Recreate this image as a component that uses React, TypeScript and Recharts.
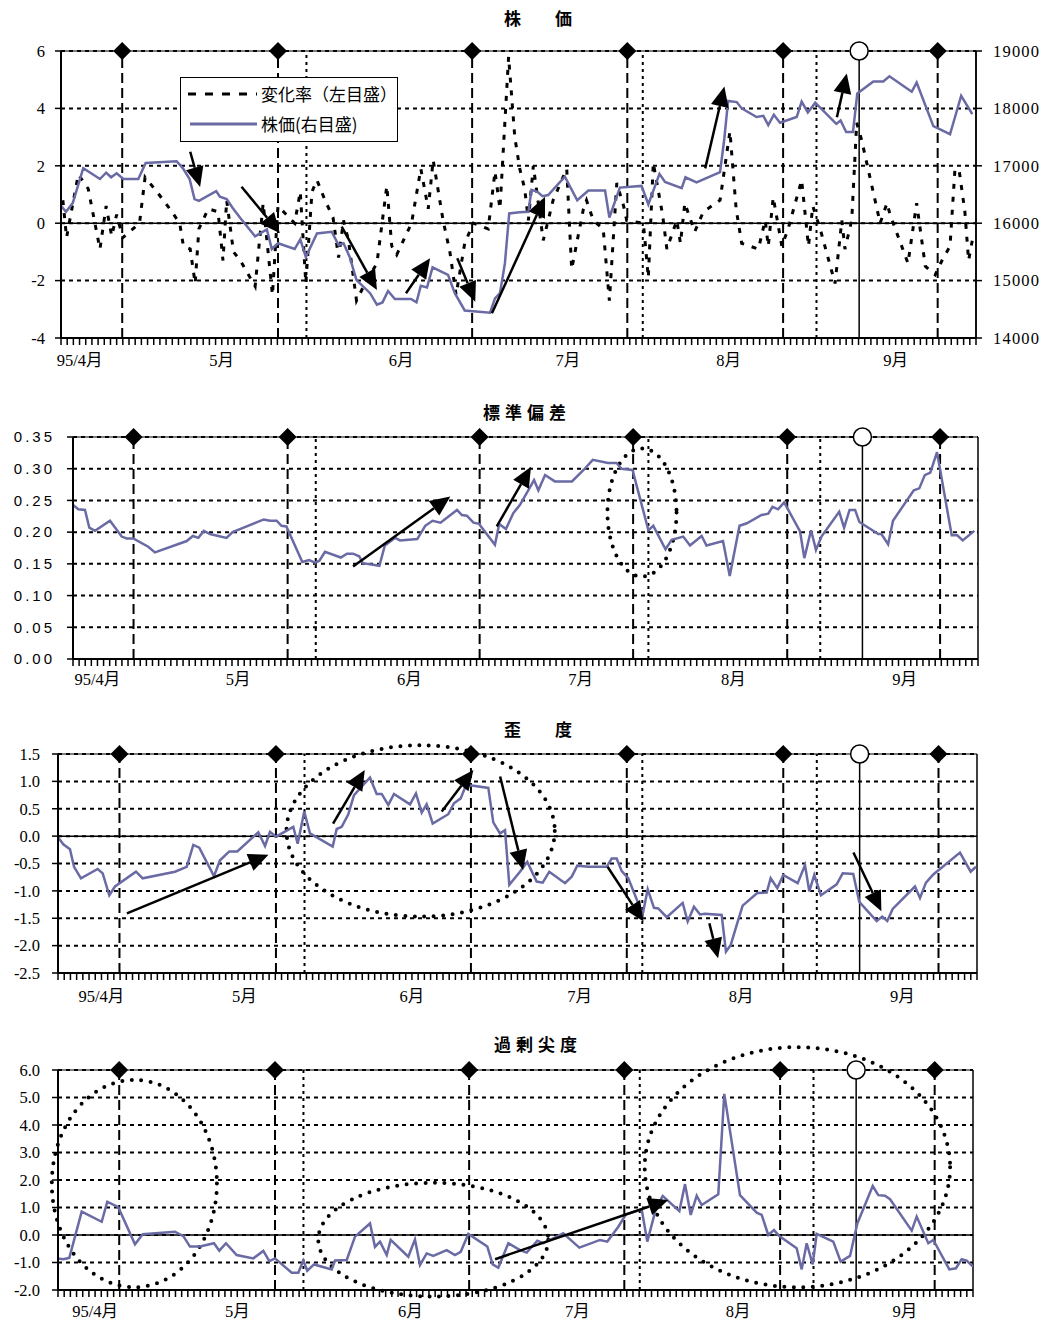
import React from 'react';
import {
  LineChart, Line, XAxis, YAxis, CartesianGrid,
  ReferenceLine, ReferenceDot, ReferenceArea, Legend,
} from 'recharts';

// x = day position on the axis: 0 at the left edge, 148 at the right edge
const monthLabels = ['95/4月', '5月', '6月', '7月', '8月', '9月'];

// event markers drawn along the top border
const diamondDays = [9.9, 35.1, 66.5, 91.6, 116.8, 141.8];
const dottedDays = [39.7, 94.1, 122.2];
const circleDays = [129.1];

// 株価 (right scale)
const priceDays = [0.1, 0.8, 1.9, 3.6, 6.3, 7.3, 8.1, 9.0, 10.1, 12.5, 13.7, 18.7, 19.7, 20.8, 21.6, 22.3, 25.1, 25.7, 26.8, 27.8,
  29.0, 31.4, 33.3, 34.1, 35.1, 37.8, 38.7, 39.6, 41.4, 43.8, 44.9, 45.7, 46.7, 47.8, 50.0, 51.1, 52.0, 52.9, 54.0, 56.6,
  57.5, 58.2, 59.2, 60.1, 62.6, 63.7, 65.3, 69.4, 70.2, 71.0, 71.8, 72.5, 74.2, 75.6, 76.1, 77.0, 77.9, 78.8, 81.5, 83.5,
  85.3, 88.0, 88.7, 90.4, 93.9, 95.0, 96.8, 97.7, 100.4, 101.0, 102.8, 106.6, 107.3, 107.9, 109.3, 110.1, 112.5, 113.6, 114.4, 115.3,
  116.3, 119.0, 119.8, 120.8, 122.0, 125.4, 126.1, 127.0, 128.1, 128.8, 131.4, 133.0, 134.0, 137.6, 138.4, 141.1, 143.8, 145.6, 147.4];
const priceValues = [16290, 16200, 16350, 16960, 16770, 16880, 16800, 16870, 16770, 16770, 17050, 17080, 16960, 16770, 16420, 16390, 16560, 16460, 16420, 16260,
  16090, 15770, 15890, 15550, 15650, 15550, 15720, 15410, 15820, 15850, 15620, 15650, 15410, 15010, 14780, 14580, 14620, 14820, 14680, 14680,
  14620, 14910, 14880, 15230, 15100, 14780, 14480, 14440, 14690, 14780, 15300, 16170, 16190, 16200, 16580, 16550, 16470, 16490, 16810, 16400,
  16570, 16570, 16100, 16620, 16650, 16330, 16860, 16720, 16610, 16800, 16710, 16890, 17480, 18130, 18110, 18000, 17850, 17870, 17710, 17890,
  17750, 17850, 18120, 17930, 18100, 17730, 17790, 17590, 17590, 18260, 18470, 18470, 18560, 18290, 18450, 17690, 17550, 18220, 17900];

// 変化率 (left scale, %)
const changeDays = [0.3, 0.9, 1.5, 2.8, 4.4, 6.3, 7.3, 8.2, 9.0, 10.0, 12.7, 13.6, 15.5, 17.6, 19.2, 19.8, 20.9, 21.7, 22.3, 23.8,
  25.4, 26.2, 26.8, 27.9, 29.0, 31.4, 32.7, 34.2, 35.1, 37.8, 38.7, 39.6, 40.6, 41.4, 42.7, 44.0, 44.9, 45.7, 46.5, 47.8,
  49.4, 51.1, 52.7, 53.5, 54.3, 56.7, 58.2, 59.4, 60.2, 61.8, 62.9, 63.9, 65.3, 66.7, 69.1, 70.2, 71.0, 72.4, 73.4, 74.2,
  75.0, 75.6, 76.4, 78.0, 79.6, 81.8, 82.6, 84.5, 85.0, 86.1, 87.7, 88.7, 89.9, 91.0, 91.5, 94.2, 95.0, 95.8, 97.3, 98.0,
  99.6, 100.2, 100.9, 102.5, 103.9, 106.6, 108.2, 109.2, 110.1, 112.8, 113.9, 114.4, 115.2, 116.6, 117.6, 119.8, 120.9, 121.6, 122.8, 125.2,
  126.3, 126.8, 127.9, 128.7, 129.5, 132.5, 133.6, 134.1, 137.0, 138.4, 139.8, 141.4, 142.5, 143.8, 144.6, 145.3, 146.2, 146.8, 147.4];
const changeValues = [0.8, -0.5, 0.2, 1.7, 1.2, -0.9, 0.6, -0.45, 0.3, -0.5, 0.0, 1.6, 1.1, 0.5, 0.0, -0.8, -0.9, -2.1, -0.2, 0.5,
  0.4, -1.3, 0.8, -1.0, -1.3, -2.2, 0.7, -2.5, 0.6, 0.0, 1.1, -2.1, 1.1, 1.5, 0.8, 0.2, -1.2, 0.1, -0.6, -2.7,
  -2.0, -1.4, 1.3, -0.8, -1.1, 0.0, 1.9, 0.5, 2.2, 0.1, -1.0, -2.5, -0.7, 0.0, -0.2, 1.8, 0.5, 5.8, 3.0, 1.9,
  1.2, 0.1, 2.0, -0.6, 0.8, 1.9, -1.6, 0.5, 0.8, 0.1, -0.2, -2.7, 1.4, 0.6, 0.1, 0.0, -1.9, 2.1, 0.3, -0.9,
  0.1, -0.7, 0.7, -0.3, 0.4, 0.8, 3.2, 0.5, -0.7, -0.9, 0.1, -0.8, 0.9, -0.8, -0.2, 1.5, -0.8, 0.6, -0.2, -2.1,
  0.1, -0.9, 0.1, 3.5, 2.9, 0.0, 0.7, 0.3, -1.4, 0.7, -1.5, -1.8, -1.3, -0.8, 1.9, 1.8, 0.4, -1.3, -0.6];

// 標準偏差
const sdDays = [0, 0.87, 1.96, 2.67, 3.6, 6.05, 7.96, 8.78, 9.86, 12.3, 13.4, 18.6, 19.6, 20.5, 21.4, 22.4, 25.1, 26.1, 27.9, 31.2,
  32.2, 33.3, 34.1, 34.9, 37.5, 38.6, 39.6, 40.3, 41.2, 43.8, 44.8, 45.8, 46.8, 47.4, 50.1, 51.0, 52.7, 53.5, 56.3, 57.6,
  58.8, 60.1, 62.8, 63.6, 64.4, 65.5, 66.4, 69.0, 69.7, 70.8, 72.0, 73.1, 75.4, 76.1, 77.2, 78.8, 81.6, 83.5, 85.0, 87.5,
  88.9, 89.7, 91.5, 94.1, 94.9, 96.9, 97.9, 99.8, 100.9, 102.8, 103.6, 106.3, 107.4, 109.0, 110.2, 112.6, 113.7, 114.4, 115.3, 116.3,
  118.9, 119.6, 120.7, 121.5, 122.4, 125.3, 126.1, 127.0, 127.9, 128.6, 131.7, 132.2, 133.3, 134.1, 137.5, 138.4, 139.3, 140.2, 141.3, 143.7,
  144.6, 145.5, 147.4];
const sdValues = [0.243, 0.236, 0.235, 0.207, 0.202, 0.218, 0.193, 0.190, 0.190, 0.177, 0.168, 0.186, 0.194, 0.191, 0.202, 0.197, 0.191, 0.200, 0.207, 0.220,
  0.218, 0.218, 0.210, 0.209, 0.153, 0.156, 0.152, 0.155, 0.169, 0.160, 0.166, 0.166, 0.162, 0.151, 0.147, 0.179, 0.191, 0.187, 0.189, 0.210,
  0.218, 0.215, 0.235, 0.227, 0.226, 0.215, 0.213, 0.180, 0.213, 0.205, 0.230, 0.243, 0.282, 0.266, 0.290, 0.280, 0.280, 0.298, 0.314, 0.309,
  0.309, 0.300, 0.298, 0.203, 0.210, 0.173, 0.188, 0.193, 0.179, 0.194, 0.179, 0.186, 0.131, 0.210, 0.214, 0.227, 0.229, 0.240, 0.236, 0.247,
  0.201, 0.159, 0.203, 0.172, 0.193, 0.232, 0.207, 0.235, 0.235, 0.216, 0.197, 0.197, 0.181, 0.218, 0.266, 0.269, 0.290, 0.294, 0.326, 0.195,
  0.195, 0.187, 0.202];

// 歪度
const skewDays = [0, 0.85, 1.93, 2.58, 3.70, 6.39, 7.20, 8.26, 9.18, 12.56, 13.64, 18.84, 20.73, 21.79, 22.75, 25.12, 26.09, 27.59, 28.87, 32.26,
  33.34, 34.14, 35.11, 37.89, 38.60, 39.66, 40.58, 44.24, 44.88, 45.69, 46.75, 47.67, 49.44, 50.24, 51.32, 52.13, 53.19, 54.11, 56.69, 57.65,
  58.57, 59.37, 60.34, 62.85, 63.77, 64.85, 65.70, 66.88, 69.30, 70.10, 71.18, 71.99, 72.68, 74.40, 75.58, 77.09, 78.06, 79.12, 81.65, 82.73,
  83.63, 85.40, 88.36, 89.17, 89.97, 90.78, 91.84, 94.16, 94.97, 95.98, 96.67, 98.03, 100.60, 101.41, 102.42, 103.39, 104.19, 106.88, 107.57, 108.33,
  109.39, 110.26, 112.61, 114.13, 114.77, 115.84, 116.80, 119.12, 120.30, 120.99, 121.79, 122.87, 125.40, 126.37, 128.07, 129.04, 131.84, 132.74, 133.55, 134.42,
  138.01, 138.82, 139.78, 140.96, 145.26, 146.98, 147.83];
const skewValues = [-0.02, -0.15, -0.24, -0.56, -0.77, -0.60, -0.68, -1.08, -0.92, -0.65, -0.77, -0.65, -0.56, -0.16, -0.21, -0.73, -0.44, -0.28, -0.28, 0.07,
  -0.18, 0.08, -0.01, 0.17, -0.14, 0.45, 0.05, -0.19, 0.13, 0.17, 0.40, 0.75, 0.97, 1.07, 0.77, 0.77, 0.57, 0.77, 0.58, 0.78,
  0.43, 0.58, 0.23, 0.40, 0.60, 0.69, 0.93, 0.92, 0.88, 0.25, 0.05, 0.11, -0.89, -0.65, -0.47, -0.83, -0.85, -0.65, -0.86, -0.74,
  -0.54, -0.56, -0.56, -0.41, -0.41, -0.64, -0.77, -1.43, -0.97, -1.31, -1.32, -1.48, -1.22, -1.56, -1.29, -1.43, -1.42, -1.44, -2.11, -1.99,
  -1.59, -1.27, -1.04, -1.03, -0.77, -0.95, -0.71, -0.86, -0.53, -1.01, -0.71, -1.08, -0.88, -0.68, -0.69, -1.20, -1.55, -1.47, -1.55, -1.33,
  -0.92, -1.13, -0.85, -0.70, -0.30, -0.65, -0.56];

// 過剰尖度
const kurtDays = [0, 0.86, 1.83, 3.83, 7.07, 7.97, 9.75, 12.45, 13.70, 18.92, 20.27, 21.35, 22.97, 25.23, 26.09, 27.17, 28.90, 31.59, 33.21, 34.18,
  35.10, 37.80, 38.87, 39.68, 40.32, 41.41, 44.27, 44.81, 46.70, 48.04, 50.47, 51.27, 52.08, 53.17, 53.81, 56.66, 57.74, 58.55, 59.64, 60.70,
  62.87, 64.21, 65.14, 66.37, 69.44, 70.31, 71.22, 72.84, 74.73, 75.81, 77.53, 78.50, 81.73, 82.82, 84.32, 87.67, 88.85, 90.63, 91.87, 94.41,
  95.32, 96.73, 97.81, 100.50, 101.42, 102.34, 103.31, 104.12, 106.80, 107.77, 110.31, 113.01, 113.82, 114.89, 115.81, 116.67, 119.48, 120.29, 121.10, 122.07,
  122.72, 125.40, 126.60, 128.11, 129.29, 131.78, 132.68, 133.77, 134.58, 138.09, 138.89, 140.77, 141.58, 144.17, 145.25, 146.17, 146.98, 148];
const kurtValues = [-0.85, -0.88, -0.83, 0.85, 0.48, 1.21, 1.01, -0.34, 0.03, 0.12, -0.04, -0.42, -0.42, -0.30, -0.57, -0.30, -0.73, -0.85, -0.58, -0.95,
  -0.85, -1.37, -1.37, -0.93, -1.30, -1.07, -1.25, -0.93, -0.91, -0.06, 0.42, -0.43, -0.24, -0.73, -0.18, -0.79, -0.16, -1.09, -0.67, -0.76,
  -0.55, -0.73, -0.61, 0.04, -0.42, -1.07, -1.19, -0.30, -0.55, -0.64, -0.21, -0.30, 0.06, -0.16, -0.46, -0.18, -0.24, 0.30, 0.75, 0.93,
  -0.24, 0.97, 1.42, 0.87, 1.85, 0.73, 1.43, 1.09, 1.48, 5.13, 1.45, 0.81, 0.73, 0.0, 0.18, -0.04, -0.48, -1.25, -0.30, -1.07,
  0.04, -0.24, -0.97, -0.76, 0.42, 1.78, 1.45, 1.43, 1.30, 0.16, 0.67, -0.30, -0.18, -1.25, -1.21, -0.88, -0.93, -1.15];

const changeTicks = [-4, -2, 0, 2, 4, 6];
const priceTicks = [14000, 15000, 16000, 17000, 18000, 19000];
const sdTicks = [0, 0.05, 0.1, 0.15, 0.2, 0.25, 0.3, 0.35];
const skewTicks = [-2.5, -2, -1.5, -1, -0.5, 0, 0.5, 1, 1.5];
const kurtTicks = [-2, -1, 0, 1, 2, 3, 4, 5, 6];

// hand-drawn annotations: arrows [fromDay, fromValue, toDay, toValue]
const priceArrows = [
  [20.9, 2.49, 22.5, 1.26], [29.2, 1.27, 35.4, -0.35], [45.4, -0.12, 51.1, -2.33], [55.8, -2.44, 59.7, -1.22],
  [64.1, -1.22, 67.0, -2.74], [69.7, -3.14, 78.3, 0.92], [104.2, 1.91, 107.3, 4.76], [125.5, 3.69, 127.1, 5.22],
];
const sdArrows = [[45.8, 0.146, 61.7, 0.256], [69.3, 0.209, 74.9, 0.303]];
const skewArrows = [
  [11.1, -1.41, 33.9, -0.34], [44.3, 0.23, 49.4, 1.21], [61.8, 0.45, 66.9, 1.21], [71.2, 1.09, 74.9, -0.62],
  [88.5, -0.56, 94.3, -1.56], [104.9, -1.59, 106.3, -2.23], [128.1, -0.30, 132.6, -1.37],
];
const kurtArrows = [[70.7, -0.88, 98.7, 1.27]];
// dotted ellipses [day1, value1, day2, value2]
const sdRings = [[87.4, 0.332, 98.7, 0.130]];
const skewRings = [[36.8, 1.66, 80.0, -1.47]];
const kurtRings = [[-1.0, 5.64, 25.7, -1.9], [42.1, 1.9, 79.3, -2.24], [94.9, 6.83, 144.3, -1.9]];

const SERIF = "'Liberation Serif', 'Noto Sans CJK JP', serif";
const JP = "'Noto Sans CJK JP', sans-serif";
const LINE_BLUE = '#6a6aa4';
const allDays = Array.from({ length: 149 }, (_, i) => i);

const rows = (days: number[], values: number[]) => days.map((d, i) => ({ day: d, v: values[i] }));

const Diamond = (p: any) => (
  <polygon points={`${p.cx},${p.cy - 9} ${p.cx + 9},${p.cy} ${p.cx},${p.cy + 9} ${p.cx - 9},${p.cy}`} fill="#000" />
);
const OpenCircle = (p: any) => <circle cx={p.cx} cy={p.cy} r={9} fill="#fff" stroke="#000" strokeWidth={1.5} />;

const Arrow = (p: any) => {
  const { x1, y1, x2, y2 } = p;
  const a = Math.atan2(y2 - y1, x2 - x1);
  const len = 20;
  const w = 9;
  const bx = x2 - len * Math.cos(a);
  const by = y2 - len * Math.sin(a);
  const nx = -Math.sin(a) * w;
  const ny = Math.cos(a) * w;
  return (
    <g>
      <line x1={x1} y1={y1} x2={bx} y2={by} stroke="#000" strokeWidth={2.5} />
      <polygon points={`${x2},${y2} ${bx + nx},${by + ny} ${bx - nx},${by - ny}`} fill="#000" />
    </g>
  );
};

const Ring = (p: any) => (
  <ellipse cx={p.x + p.width / 2} cy={p.y + p.height / 2} rx={Math.abs(p.width) / 2} ry={Math.abs(p.height) / 2}
    fill="none" stroke="#000" strokeWidth={4} strokeDasharray="0 9.5" strokeLinecap="round" />
);

const monthTick = (labelDays: number[]) => (p: any) => {
  const i = labelDays.indexOf(p.payload.value);
  if (i < 0) return <g />;
  return (
    <text x={p.x} y={p.y} dy="0.71em" textAnchor="middle" fontSize={16.5} fontFamily={SERIF} fill="#000">
      {monthLabels[i]}
    </text>
  );
};

const valueTick = (fmt: (v: number) => string, anchor: 'start' | 'end', size = 16.5, family = SERIF, spacing = 0) => (p: any) => (
  <text x={p.x} y={p.y} dy="0.355em" textAnchor={anchor} fontSize={size} fontFamily={family} letterSpacing={spacing} fill="#000">
    {fmt(p.payload.value)}
  </text>
);

// shared frame: event lines, border, zero line
function frame(yId: string | number, yMax: number, zeroLine: boolean) {
  const els: React.ReactNode[] = [];
  els.push(<ReferenceLine key="top" yAxisId={yId} y={yMax} stroke="#000" strokeWidth={1.2} />);
  els.push(<ReferenceLine key="right" yAxisId={yId} x={148} stroke="#000" strokeWidth={1.5} />);
  if (zeroLine) els.push(<ReferenceLine key="zero" yAxisId={yId} y={0} stroke="#000" strokeWidth={1.5} />);
  diamondDays.forEach((d, i) => els.push(
    <ReferenceLine key={`dl${i}`} yAxisId={yId} x={d} stroke="#000" strokeWidth={2} strokeDasharray="10 5" />));
  dottedDays.forEach((d, i) => els.push(
    <ReferenceLine key={`ol${i}`} yAxisId={yId} x={d} stroke="#000" strokeWidth={2} strokeDasharray="3 4" />));
  circleDays.forEach((d, i) => els.push(
    <ReferenceLine key={`cl${i}`} yAxisId={yId} x={d} stroke="#000" strokeWidth={1.5} />));
  return els;
}

function markers(yId: string | number, yMax: number) {
  return [
    ...diamondDays.map((d, i) => (
      <ReferenceDot key={`dm${i}`} yAxisId={yId} x={d} y={yMax} r={9} ifOverflow="visible" shape={Diamond} />)),
    ...circleDays.map((d, i) => (
      <ReferenceDot key={`cm${i}`} yAxisId={yId} x={d} y={yMax} r={9} ifOverflow="visible" shape={OpenCircle} />)),
  ];
}

function arrows(list: number[][], yId: string | number, tag: string) {
  return list.map((a, i) => (
    <ReferenceLine key={`${tag}a${i}`} yAxisId={yId} ifOverflow="visible"
      segment={[{ x: a[0], y: a[1] }, { x: a[2], y: a[3] }]} shape={Arrow} />
  ));
}

function rings(list: number[][], yId: string | number, tag: string) {
  return list.map((r, i) => (
    <ReferenceArea key={`${tag}r${i}`} yAxisId={yId} ifOverflow="visible"
      x1={r[0]} x2={r[2]} y1={r[1]} y2={r[3]} shape={Ring} />
  ));
}

const xAxis = (labelDays: number[], margin: number) => (
  <XAxis dataKey="day" type="number" domain={[0, 148]} ticks={allDays} interval={0} height={30}
    tickSize={7} tickMargin={margin} tick={monthTick(labelDays)} allowDataOverflow
    axisLine={{ stroke: '#000', strokeWidth: 2 }} tickLine={{ stroke: '#000', strokeWidth: 1.5 }} />
);

const LegendBox = () => (
  <div style={{ width: 218, height: 65, boxSizing: 'border-box', border: '1.5px solid #000', background: '#fff',
    fontFamily: JP, fontSize: 17, color: '#000', lineHeight: '20px' }}>
    <div style={{ display: 'flex', alignItems: 'center', height: 31 }}>
      <svg width={80} height={10}>
        <line x1={7} y1={5} x2={76} y2={5} stroke="#000" strokeWidth={3} strokeDasharray="8 9" />
      </svg>
      <span>変化率（左目盛）</span>
    </div>
    <div style={{ display: 'flex', alignItems: 'center', height: 30 }}>
      <svg width={80} height={10}>
        <line x1={9} y1={5} x2={76} y2={5} stroke={LINE_BLUE} strokeWidth={3} />
      </svg>
      <span>株価(右目盛)</span>
    </div>
  </div>
);

const Title = ({ text, cx, cy, spacing }: { text: string; cx: number; cy: number; spacing: number }) => (
  <div style={{ position: 'absolute', left: cx - 150, top: cy - 11, width: 300, textAlign: 'center', lineHeight: '22px',
    fontFamily: JP, fontWeight: 700, fontSize: 17, letterSpacing: spacing, color: '#000' }}>{text}</div>
);

const grid = (yId: string | number) => (
  <CartesianGrid yAxisId={yId} vertical={false} stroke="#000" strokeWidth={2} strokeDasharray="4 4" />
);

export default function App() {
  return (
    <div style={{ position: 'absolute', left: 0, top: 0, width: 1047, height: 1325, background: '#fff', overflow: 'hidden' }}>
      <Title text="株　　価" cx={538} cy={18} spacing={0} />
      <div style={{ position: 'absolute', left: 0, top: 0 }}>
        <LineChart width={1047} height={380} margin={{ top: 51, right: 0, bottom: 12, left: 0 }}>
          {grid('left')}
          {xAxis([3, 26, 55, 82, 108, 135], 9)}
          <YAxis yAxisId="left" type="number" domain={[-4, 6]} ticks={changeTicks} interval={0} width={61}
            tickSize={6} tickMargin={10} tick={valueTick((v) => String(v), 'end')}
            axisLine={{ stroke: '#000', strokeWidth: 2 }} tickLine={{ stroke: '#000', strokeWidth: 1.5 }} />
          <YAxis yAxisId="right" orientation="right" type="number" domain={[14000, 19000]} ticks={priceTicks} interval={0} width={71}
            tickSize={6} tickMargin={11} tick={valueTick((v) => String(v), 'start', 16.5, SERIF, 1.2)}
            axisLine={{ stroke: '#000', strokeWidth: 1.5 }} tickLine={{ stroke: '#000', strokeWidth: 1.5 }} />
          {frame('left', 6, true)}
          <Line yAxisId="left" data={rows(changeDays, changeValues)} dataKey="v" type="linear" stroke="#000"
            strokeWidth={3} strokeDasharray="5 8" dot={false} isAnimationActive={false} />
          <Line yAxisId="right" data={rows(priceDays, priceValues)} dataKey="v" type="linear" stroke={LINE_BLUE}
            strokeWidth={2.5} dot={false} isAnimationActive={false} />
          {arrows(priceArrows, 'left', 'p')}
          {markers('left', 6)}
          <Legend layout="vertical" align="center" verticalAlign="middle" content={<LegendBox />}
            wrapperStyle={{ left: 180, top: 77, width: 218, height: 65 }} />
        </LineChart>
      </div>

      <Title text="標準偏差" cx={527} cy={412} spacing={5} />
      <div style={{ position: 'absolute', left: 0, top: 390 }}>
        <LineChart width={1047} height={310} margin={{ top: 47, right: 69, bottom: 11, left: 0 }}>
          {grid(0)}
          {xAxis([4, 27, 55, 83, 108, 136], 7)}
          <YAxis type="number" domain={[0, 0.35]} ticks={sdTicks} interval={0} width={73}
            tickSize={6} tickMargin={12} tick={valueTick((v) => v.toFixed(2), 'end', 15, "'Liberation Sans', sans-serif", 3)}
            axisLine={{ stroke: '#000', strokeWidth: 2 }} tickLine={{ stroke: '#000', strokeWidth: 1.5 }} />
          {frame(0, 0.35, false)}
          <Line data={rows(sdDays, sdValues)} dataKey="v" type="linear" stroke={LINE_BLUE}
            strokeWidth={2.5} dot={false} isAnimationActive={false} />
          {arrows(sdArrows, 0, 's')}
          {rings(sdRings, 0, 's')}
          {markers(0, 0.35)}
        </LineChart>
      </div>

      <Title text="歪　　度" cx={538} cy={729} spacing={0} />
      <div style={{ position: 'absolute', left: 0, top: 705 }}>
        <LineChart width={1047} height={310} margin={{ top: 49, right: 70, bottom: 12, left: 0 }}>
          {grid(0)}
          {xAxis([7, 30, 57, 84, 110, 136], 10)}
          <YAxis type="number" domain={[-2.5, 1.5]} ticks={skewTicks} interval={0} width={58}
            tickSize={6} tickMargin={12} tick={valueTick((v) => v.toFixed(1), 'end')}
            axisLine={{ stroke: '#000', strokeWidth: 2 }} tickLine={{ stroke: '#000', strokeWidth: 1.5 }} />
          {frame(0, 1.5, true)}
          <Line data={rows(skewDays, skewValues)} dataKey="v" type="linear" stroke={LINE_BLUE}
            strokeWidth={2.5} dot={false} isAnimationActive={false} />
          {arrows(skewArrows, 0, 'k')}
          {rings(skewRings, 0, 'k')}
          {markers(0, 1.5)}
        </LineChart>
      </div>

      <Title text="過剰尖度" cx={538} cy={1044} spacing={5} />
      <div style={{ position: 'absolute', left: 0, top: 1020 }}>
        <LineChart width={1047} height={305} margin={{ top: 50, right: 74, bottom: 5, left: 0 }}>
          {grid(0)}
          {xAxis([6, 29, 57, 84, 110, 137], 8)}
          <YAxis type="number" domain={[-2, 6]} ticks={kurtTicks} interval={0} width={58}
            tickSize={6} tickMargin={12} tick={valueTick((v) => v.toFixed(1), 'end')}
            axisLine={{ stroke: '#000', strokeWidth: 2 }} tickLine={{ stroke: '#000', strokeWidth: 1.5 }} />
          {frame(0, 6, true)}
          <Line data={rows(kurtDays, kurtValues)} dataKey="v" type="linear" stroke={LINE_BLUE}
            strokeWidth={2.5} dot={false} isAnimationActive={false} />
          {arrows(kurtArrows, 0, 'u')}
          {rings(kurtRings, 0, 'u')}
          {markers(0, 6)}
        </LineChart>
      </div>
    </div>
  );
}
